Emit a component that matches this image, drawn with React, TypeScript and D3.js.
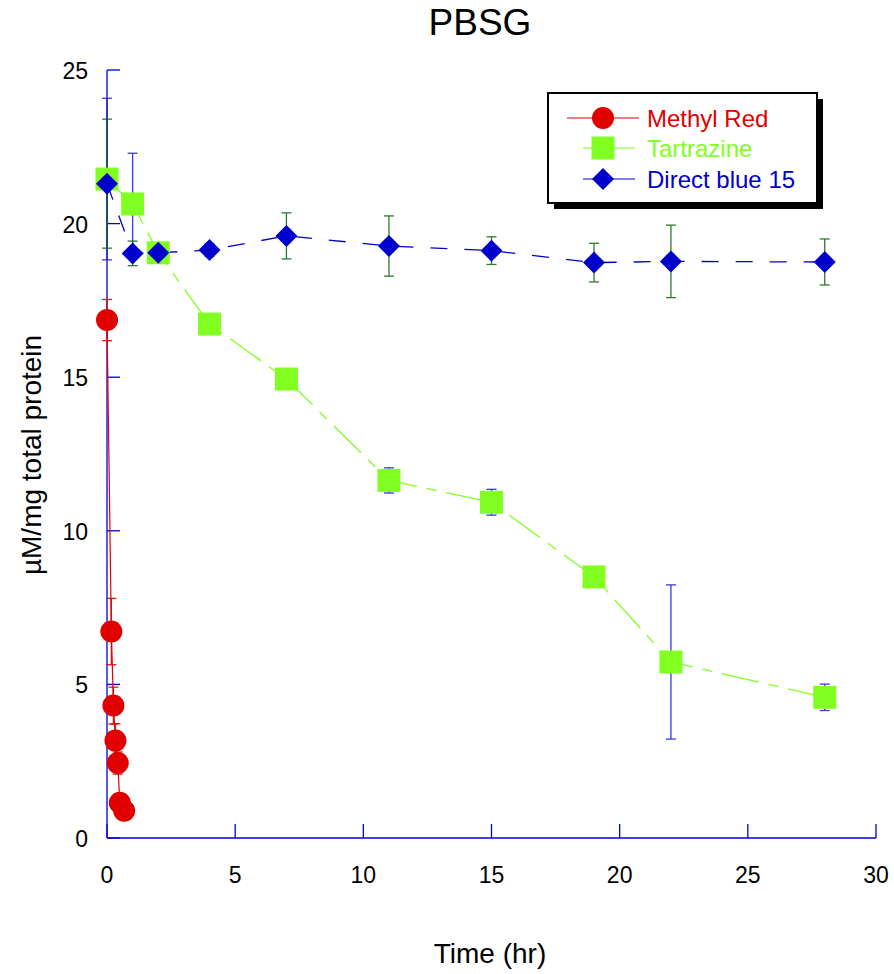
import React from 'react';
import * as d3 from 'd3';

// Methyl Red
const mrTime = [0, 0.17, 0.25, 0.33, 0.42, 0.5, 0.67];
const mrValue = [16.86, 6.72, 4.31, 3.17, 2.44, 1.15, 0.89];
const mrError = [0.67, 1.08, 0.6, 0.55, 0.36, 0.15, 0.15];

// Tartrazine
const tzTime = [0, 1, 2, 4, 7, 11, 15, 19, 22, 28];
const tzValue = [21.45, 20.64, 19.05, 16.73, 14.94, 11.64, 10.93, 8.5, 5.73, 4.58];
const tzError = [2.63, 1.65, 0.2, 0.2, 0.2, 0.41, 0.42, 0.2, 2.51, 0.43];

// Direct blue 15
const dbTime = [0, 1, 2, 4, 7, 11, 15, 19, 22, 28];
const dbValue = [21.3, 19.03, 19.05, 19.14, 19.6, 19.27, 19.12, 18.73, 18.77, 18.75];
const dbError = [2.1, 0.4, 0.2, 0.2, 0.75, 0.98, 0.45, 0.63, 1.18, 0.75];

const xTicks = [0, 5, 10, 15, 20, 25, 30];
const yTicks = [0, 5, 10, 15, 20, 25];

const legendNames = ['Methyl Red', 'Tartrazine', 'Direct blue 15'];

const font = '"Liberation Sans", Arial, Helvetica, sans-serif';
const axisColor = '#0000dd';
const red = '#e00000';
const green = '#80ff20';
const blue = '#0000cc';

function App() {
  const width = 894;
  const height = 974;

  const x = d3.scaleLinear().domain([0, 30]).range([107, 876]);
  const y = d3.scaleLinear().domain([0, 25]).range([838, 70]);

  const line = d3
    .line<[number, number]>()
    .x((d) => x(d[0]))
    .y((d) => y(d[1]));

  const zip = (t: number[], v: number[]) => t.map((d, i) => [d, v[i]] as [number, number]);

  const errorBars = (t: number[], v: number[], e: number[], color: string, op: number) =>
    t.map((d, i) => {
      const cx = x(d);
      const y1 = y(v[i] + e[i]);
      const y2 = y(v[i] - e[i]);
      return (
        <g key={i} stroke={color} strokeWidth={1.3} opacity={op}>
          <line x1={cx} x2={cx} y1={y1} y2={y2} />
          <line x1={cx - 5} x2={cx + 5} y1={y1} y2={y1} />
          <line x1={cx - 5} x2={cx + 5} y1={y2} y2={y2} />
        </g>
      );
    });

  const diamond = (cx: number, cy: number, r: number) =>
    `M${cx},${cy - r}L${cx + r},${cy}L${cx},${cy + r}L${cx - r},${cy}Z`;

  const legX = 548;
  const legY = 93;
  const legW = 269;
  const legH = 110;
  const rowY = [118, 148, 179];

  return (
    <svg
      width={width}
      height={height}
      style={{ position: 'absolute', left: 0, top: 0, background: '#fff' }}
      fontFamily={font}
    >
      <text x={480} y={35} fontSize={37} textAnchor="middle">
        PBSG
      </text>

      {/* axes */}
      <g stroke={axisColor} strokeWidth={1.3}>
        <line x1={x(0)} x2={x(0)} y1={y(25)} y2={y(0)} />
        <line x1={x(0)} x2={x(30)} y1={y(0)} y2={y(0)} />
        {xTicks.map((t) => (
          <line key={t} x1={x(t)} x2={x(t)} y1={y(0)} y2={y(0) - 14} />
        ))}
        {yTicks.map((t) => (
          <line key={t} x1={x(0)} x2={x(0) + 13} y1={y(t)} y2={y(t)} />
        ))}
      </g>
      <g fontSize={23}>
        {xTicks.map((t) => (
          <text key={t} x={x(t)} y={883} textAnchor="middle">
            {t}
          </text>
        ))}
        {yTicks.map((t) => (
          <text key={t} x={88} y={y(t) + 9} textAnchor="end">
            {t}
          </text>
        ))}
      </g>
      <text x={490} y={963} fontSize={28} textAnchor="middle">
        Time (hr)
      </text>
      <text
        transform={`translate(41,455) rotate(-90)`}
        fontSize={28}
        textAnchor="middle"
      >
        µM/mg total protein
      </text>

      {/* lines */}
      <path d={line(zip(mrTime, mrValue)) || ''} fill="none" stroke={red} strokeWidth={1.2} />
      <path
        d={line(zip(tzTime, tzValue)) || ''}
        fill="none"
        stroke={green}
        strokeWidth={1.3}
        strokeDasharray="38 10 10 10"
      />
      <path
        d={line(zip(dbTime, dbValue)) || ''}
        fill="none"
        stroke={blue}
        strokeWidth={1.3}
        strokeDasharray="17 17"
      />

      {/* error bars */}
      {errorBars(mrTime, mrValue, mrError, red, 0.9)}
      {errorBars(tzTime, tzValue, tzError, '#1818dd', 0.85)}
      {errorBars(dbTime, dbValue, dbError, '#0a640a', 0.85)}

      {/* markers */}
      {mrTime.map((d, i) => (
        <circle key={i} cx={x(d)} cy={y(mrValue[i])} r={11} fill={red} />
      ))}
      {tzTime.map((d, i) => (
        <rect key={i} x={x(d) - 11.5} y={y(tzValue[i]) - 11.5} width={23} height={23} fill={green} />
      ))}
      {dbTime.map((d, i) => (
        <path key={i} d={diamond(x(d), y(dbValue[i]), 11)} fill={blue} />
      ))}

      {/* legend */}
      <rect x={legX + 6} y={legY + 6} width={legW} height={legH} fill="#000" />
      <rect x={legX} y={legY} width={legW} height={legH} fill="#fff" stroke="#000" strokeWidth={2} />
      <g strokeWidth={1.2}>
        <line x1={567} x2={639} y1={rowY[0]} y2={rowY[0]} stroke={red} />
        <circle cx={603} cy={rowY[0]} r={11} fill={red} />
        <line x1={583} x2={635} y1={rowY[1]} y2={rowY[1]} stroke={green} />
        <rect x={603 - 11.5} y={rowY[1] - 11.5} width={23} height={23} fill={green} />
        <line x1={583} x2={635} y1={rowY[2]} y2={rowY[2]} stroke={blue} strokeDasharray="12 5 40" />
        <path d={diamond(603, rowY[2], 11)} fill={blue} />
      </g>
      {legendNames.map((n, i) => (
        <text key={n} x={647} y={rowY[i] + 9} fontSize={24} fill={[red, green, blue][i]}>
          {n}
        </text>
      ))}
    </svg>
  );
}

export default App;
